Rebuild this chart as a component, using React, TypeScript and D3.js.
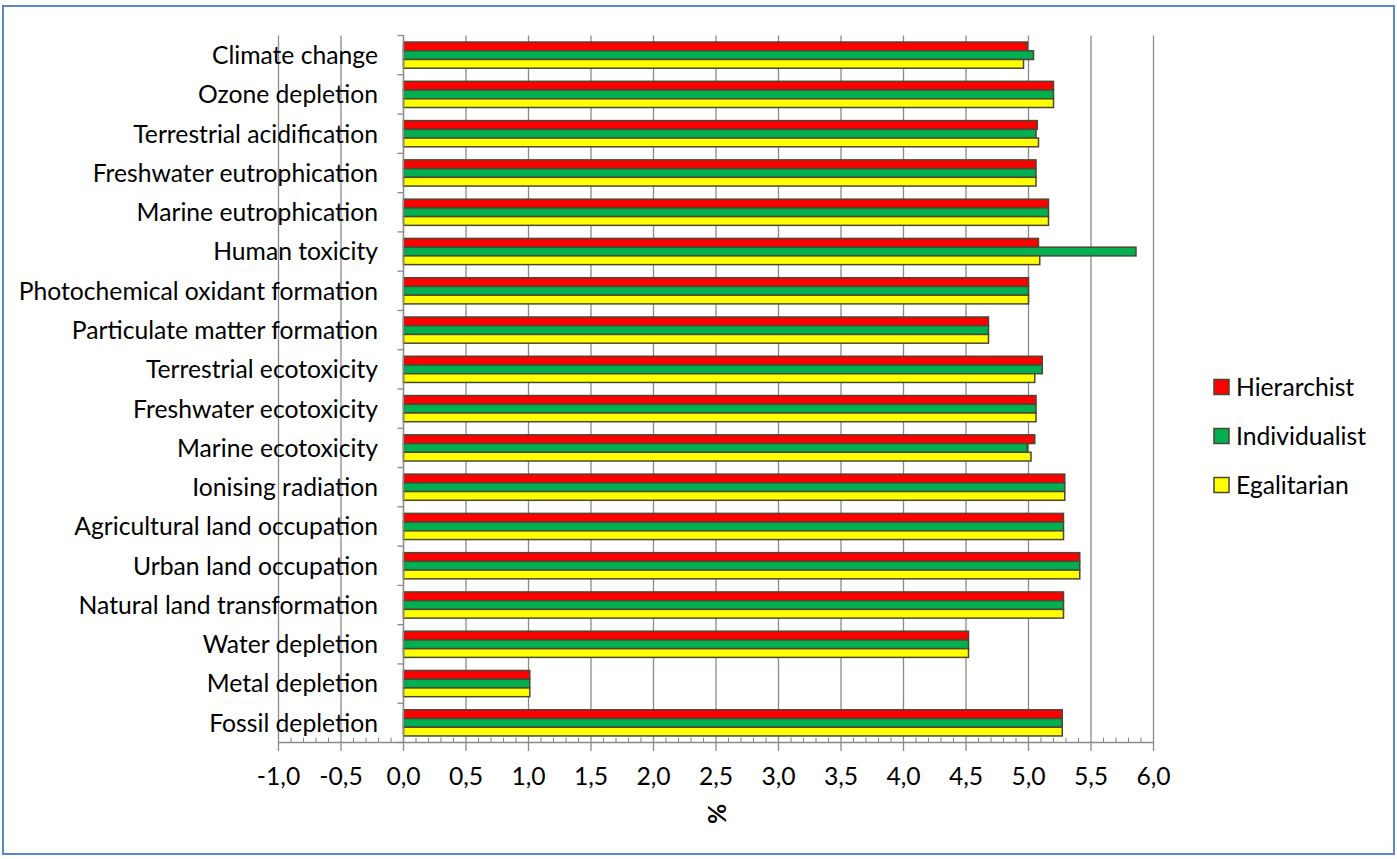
import React from "react";
import * as d3 from "d3";

// Impact categories, top to bottom
const categories: string[] = [
  "Climate change",
  "Ozone depletion",
  "Terrestrial acidification",
  "Freshwater eutrophication",
  "Marine eutrophication",
  "Human toxicity",
  "Photochemical oxidant formation",
  "Particulate matter formation",
  "Terrestrial ecotoxicity",
  "Freshwater ecotoxicity",
  "Marine ecotoxicity",
  "Ionising radiation",
  "Agricultural land occupation",
  "Urban land occupation",
  "Natural land transformation",
  "Water depletion",
  "Metal depletion",
  "Fossil depletion",
];

// Share per perspective (%)
const hierarchist: number[] = [
  4.99, 5.2, 5.07, 5.06, 5.16, 5.08, 5.0, 4.68, 5.11, 5.06, 5.05, 5.29, 5.28, 5.41, 5.28, 4.52, 1.01, 5.27,
];
const individualist: number[] = [
  5.04, 5.2, 5.06, 5.06, 5.16, 5.86, 5.0, 4.68, 5.11, 5.06, 4.99, 5.29, 5.28, 5.41, 5.28, 4.52, 1.01, 5.27,
];
const egalitarian: number[] = [
  4.96, 5.2, 5.08, 5.06, 5.16, 5.09, 5.0, 4.68, 5.05, 5.06, 5.02, 5.29, 5.28, 5.41, 5.28, 4.52, 1.01, 5.27,
];

const seriesNames: string[] = ["Hierarchist", "Individualist", "Egalitarian"];
const seriesColors: string[] = ["#FF0000", "#00B050", "#FFFF00"];
const seriesValues: number[][] = [hierarchist, individualist, egalitarian];

const xTicks: number[] = [-1, -0.5, 0, 0.5, 1, 1.5, 2, 2.5, 3, 3.5, 4, 4.5, 5, 5.5, 6];
const axisTitle = "%";

const W = 1397;
const H = 859;
const FONT = "Lato, 'Open Sans', 'DejaVu Sans', sans-serif";
const FS = 24.7;
const GRID = "#8a8a8a";
const BAR_STROKE = "#4b4733";

export default function App() {
  const x = d3.scaleLinear().domain([-1, 6]).range([278.5, 1153.5]);
  const y = d3
    .scaleBand<string>()
    .domain(categories)
    .range([35.5, 742.5])
    .paddingInner(1 / 3)
    .paddingOuter(1 / 6);
  const inner = d3
    .scaleBand<string>()
    .domain(seriesNames)
    .range([0, y.bandwidth()])
    .padding(0);

  const step = y.step();
  const top = 35.5;
  const bottom = 742.5;
  const boundaries = d3.range(categories.length + 1).map((i) => top + i * step);
  const minorTicks = d3
    .range(-10, 61)
    .map((v) => v / 10)
    .filter((v) => Math.abs(v * 2 - Math.round(v * 2)) > 1e-6);

  const fmt = (v: number) => d3.format(".1f")(v).replace(".", ",").replace("−", "-");

  return (
    <div style={{ position: "absolute", left: 0, top: 0 }}>
      <svg width={W} height={H} style={{ display: "block", background: "#fff" }}>
        <rect x={3} y={6} width={1391} height={848} fill="#fff" stroke="#5B87C5" strokeWidth={2} />

        {/* vertical gridlines with major ticks below the axis */}
        {xTicks.map((t) => (
          <line key={"g" + t} x1={x(t)} x2={x(t)} y1={top} y2={bottom + 8.5} stroke={GRID} strokeWidth={1.3} />
        ))}

        {/* category labels */}
        {categories.map((c) => (
          <text
            key={"l" + c}
            x={378}
            y={(y(c) as number) + y.bandwidth() / 2}
            dy="0.36em"
            textAnchor="end"
            fontFamily={FONT}
            fontSize={FS}
            fill="#000"
          >
            {c}
          </text>
        ))}

        {/* bars */}
        {categories.map((c, i) => (
          <g key={"b" + c} transform={`translate(0,${y(c)})`}>
            {seriesNames.map((s, k) => (
              <rect
                key={s}
                x={x(0)}
                y={inner(s) as number}
                width={x(seriesValues[k][i]) - x(0)}
                height={inner.bandwidth()}
                fill={seriesColors[k]}
                stroke={BAR_STROKE}
                strokeWidth={1.5}
              />
            ))}
          </g>
        ))}

        {/* category axis */}
        <line x1={x(0)} x2={x(0)} y1={top} y2={bottom} stroke={GRID} strokeWidth={1.3} />
        {boundaries.map((b, i) => (
          <line key={"yt" + i} x1={x(0) - 6} x2={x(0)} y1={b} y2={b} stroke={GRID} strokeWidth={1.3} />
        ))}

        {/* value axis */}
        <line x1={x(-1)} x2={x(6)} y1={bottom} y2={bottom} stroke={GRID} strokeWidth={1.3} />
        {minorTicks.map((t) => (
          <line key={"m" + t} x1={x(t)} x2={x(t)} y1={bottom - 5} y2={bottom} stroke={GRID} strokeWidth={1.1} />
        ))}
        {xTicks.map((t) => (
          <text
            key={"t" + t}
            x={x(t)}
            y={785}
            textAnchor="middle"
            fontFamily={FONT}
            fontSize={FS}
            fill="#000"
          >
            {fmt(t)}
          </text>
        ))}
        <text
          transform={`translate(${(x(-1) + x(6)) / 2 + 1},814) rotate(-90)`}
          textAnchor="middle"
          dy="0.35em"
          fontFamily={FONT}
          fontSize={FS}
          fontWeight="bold"
          fill="#000"
        >
          {axisTitle}
        </text>

        {/* legend */}
        {seriesNames.map((s, k) => (
          <g key={"lg" + s} transform={`translate(1214,${387 + k * 49})`}>
            <rect x={0} y={-7.5} width={15} height={15} fill={seriesColors[k]} stroke={BAR_STROKE} strokeWidth={1.5} />
            <text x={22} y={0} dy="0.36em" fontFamily={FONT} fontSize={FS} fill="#000">
              {s}
            </text>
          </g>
        ))}
      </svg>
    </div>
  );
}
